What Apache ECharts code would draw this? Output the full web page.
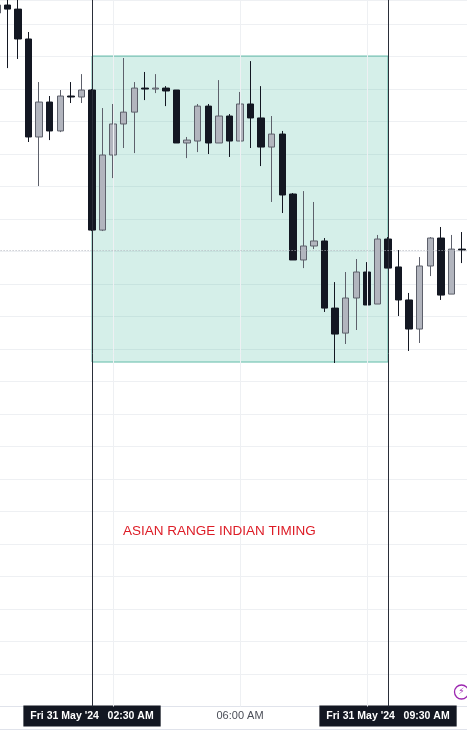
<!DOCTYPE html>
<html lang="en">
<head>
  <meta charset="UTF-8">
  <title>Asian range</title>
  <style>
    * { margin: 0; padding: 0; }
    body { background: #ffffff; }
    #chart { width: 467px; height: 733px; }
  </style>
</head>
<body>
  <div id="chart"></div>

  <script src="https://cdn.jsdelivr.net/npm/echarts@6/dist/echarts.min.js"></script>
  <script type="text/javascript">
  // 15 minute bars, Fri 31 May '24
  var times = [
    '00:15', '00:30', '00:45', '01:00', '01:15', '01:30', '01:45', '02:00', '02:15',
    '02:30', '02:45', '03:00', '03:15', '03:30', '03:45', '04:00', '04:15', '04:30',
    '04:45', '05:00', '05:15', '05:30', '05:45', '06:00', '06:15', '06:30', '06:45',
    '07:00', '07:15', '07:30', '07:45', '08:00', '08:15', '08:30', '08:45', '09:00',
    '09:15', '09:30', '09:45', '10:00', '10:15', '10:30', '10:45', '11:00', '11:15'
  ];
  var opens = [
    2358.68, 2359.17, 2358.92, 2357.08, 2351.05, 2353.20, 2351.42, 2353.57, 2353.51,
    2353.94, 2345.32, 2349.94, 2351.85, 2352.58, 2354.06, 2354.00, 2354.06, 2353.94,
    2350.68, 2350.80, 2352.95, 2350.68, 2352.34, 2350.80, 2353.08, 2352.22, 2350.43,
    2351.23, 2347.54, 2343.48, 2344.34, 2344.65, 2340.52, 2338.98, 2341.14, 2342.74,
    2340.77, 2344.77, 2343.05, 2341.02, 2339.23, 2343.11, 2344.83, 2341.38, 2344.15
  ];
  var closes = [
    2359.17, 2358.92, 2357.08, 2351.05, 2353.20, 2351.42, 2353.57, 2353.51, 2353.94,
    2345.32, 2349.94, 2351.85, 2352.58, 2354.06, 2354.00, 2354.06, 2353.88, 2350.68,
    2350.86, 2352.95, 2350.68, 2352.34, 2350.80, 2353.08, 2352.22, 2350.43, 2351.23,
    2347.48, 2343.48, 2344.34, 2344.65, 2340.52, 2338.92, 2341.14, 2342.74, 2340.71,
    2344.77, 2342.98, 2341.02, 2339.23, 2343.11, 2344.83, 2341.32, 2344.15, 2344.09
  ];
  var lows = [
    2358.49, 2355.29, 2355.85, 2350.74, 2348.03, 2350.86, 2351.35, 2353.14, 2353.14,
    2345.26, 2345.26, 2348.52, 2350.37, 2350.06, 2353.32, 2353.75, 2352.95, 2350.68,
    2349.75, 2350.12, 2350.00, 2350.68, 2349.82, 2350.80, 2350.37, 2349.26, 2347.05,
    2346.37, 2343.48, 2342.98, 2344.15, 2340.28, 2337.14, 2338.31, 2339.17, 2340.71,
    2340.77, 2342.98, 2340.03, 2337.88, 2338.37, 2342.49, 2341.02, 2341.38, 2343.29
  ];
  var highs = [
    2359.35, 2359.72, 2359.72, 2357.51, 2354.43, 2353.57, 2353.94, 2354.43, 2354.92,
    2354.00, 2352.83, 2353.08, 2355.91, 2354.43, 2355.05, 2354.92, 2354.18, 2353.94,
    2351.05, 2353.08, 2353.08, 2354.55, 2352.46, 2353.82, 2355.72, 2354.18, 2352.34,
    2351.42, 2347.60, 2347.72, 2347.05, 2344.83, 2342.12, 2342.74, 2343.54, 2343.35,
    2345.02, 2344.89, 2344.09, 2341.45, 2343.66, 2344.89, 2345.51, 2345.02, 2345.20
  ];

  // the drawn box
  var rangeStart = '02:30';
  var rangeEnd = '09:30';
  var rangeHigh = 2356.03;
  var rangeLow = 2337.20;
  var gridTimes = ['03:00', '06:00', '09:00'];
  var note = 'ASIAN RANGE INDIAN TIMING';
  var dateText = "Fri 31 May '24";

  function main () {
    var chart = echarts.init(document.getElementById('chart'));

    var candles = times.map(function (t, i) {
      return [opens[i], closes[i], lows[i], highs[i]];
    });
    var lastClose = closes[closes.length - 1];

    var option = {
      animation: false,
      backgroundColor: '#ffffff',
      grid: {
        left: -8.4, right: -0.3, top: 0, bottom: 26.5,
        outerBoundsMode: 'none'
      },
      xAxis: {
        type: 'category',
        data: times,
        axisLine: { lineStyle: { color: '#e0e3eb' } },
        axisTick: { show: false },
        splitLine: { show: false },
        axisLabel: {
          interval: function (idx, val) {
            return val === rangeStart || val === rangeEnd || val === '06:00';
          },
          margin: 3,
          verticalAlign: 'top',
          formatter: function (val) {
            if (val === rangeStart || val === rangeEnd) {
              return '{box|' + dateText + '   ' + val + ' AM}';
            }
            return '{plain|' + val + ' AM}';
          },
          rich: {
            box: {
              backgroundColor: '#131722', color: '#ffffff',
              fontFamily: 'Liberation Sans', fontSize: 10.5, fontWeight: 'bold',
              lineHeight: 13, padding: [5, 7, 5, 7]
            },
            plain: {
              color: '#4a4d57', fontFamily: 'Liberation Sans', fontSize: 11,
              lineHeight: 13, padding: [5, 7, 5, 7]
            }
          }
        }
      },
      yAxis: {
        type: 'value',
        min: 2316,
        max: 2359.48,
        interval: 2,
        axisLine: { show: false },
        axisTick: { show: false },
        axisLabel: { show: false },
        splitLine: { lineStyle: { color: '#eef0f3', width: 1 } }
      },
      series: [
        {
          // vertical grid lines
          type: 'line',
          data: [],
          z: 1,
          silent: true,
          markLine: {
            symbol: 'none',
            silent: true,
            label: { show: false },
            lineStyle: { color: '#eef0f3', width: 1, type: 'solid' },
            data: gridTimes.map(function (t) { return { xAxis: t }; })
          }
        },
        {
          // range box, session lines, last price line
          type: 'line',
          data: [],
          z: 2,
          silent: true,
          markArea: {
            silent: true,
            itemStyle: {
              color: 'rgba(43,176,145,0.2)',
              borderColor: '#62bba8',
              borderWidth: 1
            },
            data: [[
              { xAxis: rangeStart, yAxis: rangeHigh },
              { xAxis: rangeEnd, yAxis: rangeLow }
            ]]
          },
          markLine: {
            symbol: 'none',
            silent: true,
            label: { show: false },
            data: [
              { xAxis: rangeStart, lineStyle: { color: '#2a2e39', width: 1, type: 'solid' } },
              { xAxis: rangeEnd, lineStyle: { color: '#2a2e39', width: 1, type: 'solid' } },
              { yAxis: lastClose, lineStyle: { color: '#b2b5be', width: 1, type: [1, 2] } }
            ]
          }
        },
        {
          type: 'candlestick',
          data: candles,
          z: 3,
          barWidth: 7,
          itemStyle: {
            color: '#b2b5be',
            color0: '#131722',
            borderColor: '#5d606b',
            borderColor0: '#131722',
            borderWidth: 1
          }
        }
      ],
      graphic: [
        {
          type: 'text',
          left: 123,
          top: 524,
          z: 100,
          silent: true,
          style: {
            text: note,
            fill: '#dd1c26',
            font: '13.5px "Liberation Sans"'
          }
        },
        {
          type: 'line',
          silent: true,
          z: 100,
          shape: { x1: 0, y1: 729.5, x2: 467, y2: 729.5 },
          style: { stroke: '#e0e3eb', lineWidth: 1 }
        },
        {
          type: 'circle',
          silent: true,
          z: 100,
          shape: { cx: 461.5, cy: 692, r: 7 },
          style: { fill: '#ffffff', stroke: '#9c27b0', lineWidth: 1.3 }
        },
        {
          type: 'text',
          silent: true,
          z: 101,
          x: 461.5,
          y: 692,
          style: {
            text: '\u26A1',
            fill: '#9c27b0',
            font: '9px "DejaVu Sans"',
            align: 'center',
            verticalAlign: 'middle'
          }
        }
      ]
    };
    chart.setOption(option);
  }

  window.addEventListener('load', main);
  </script>
</body>
</html>
